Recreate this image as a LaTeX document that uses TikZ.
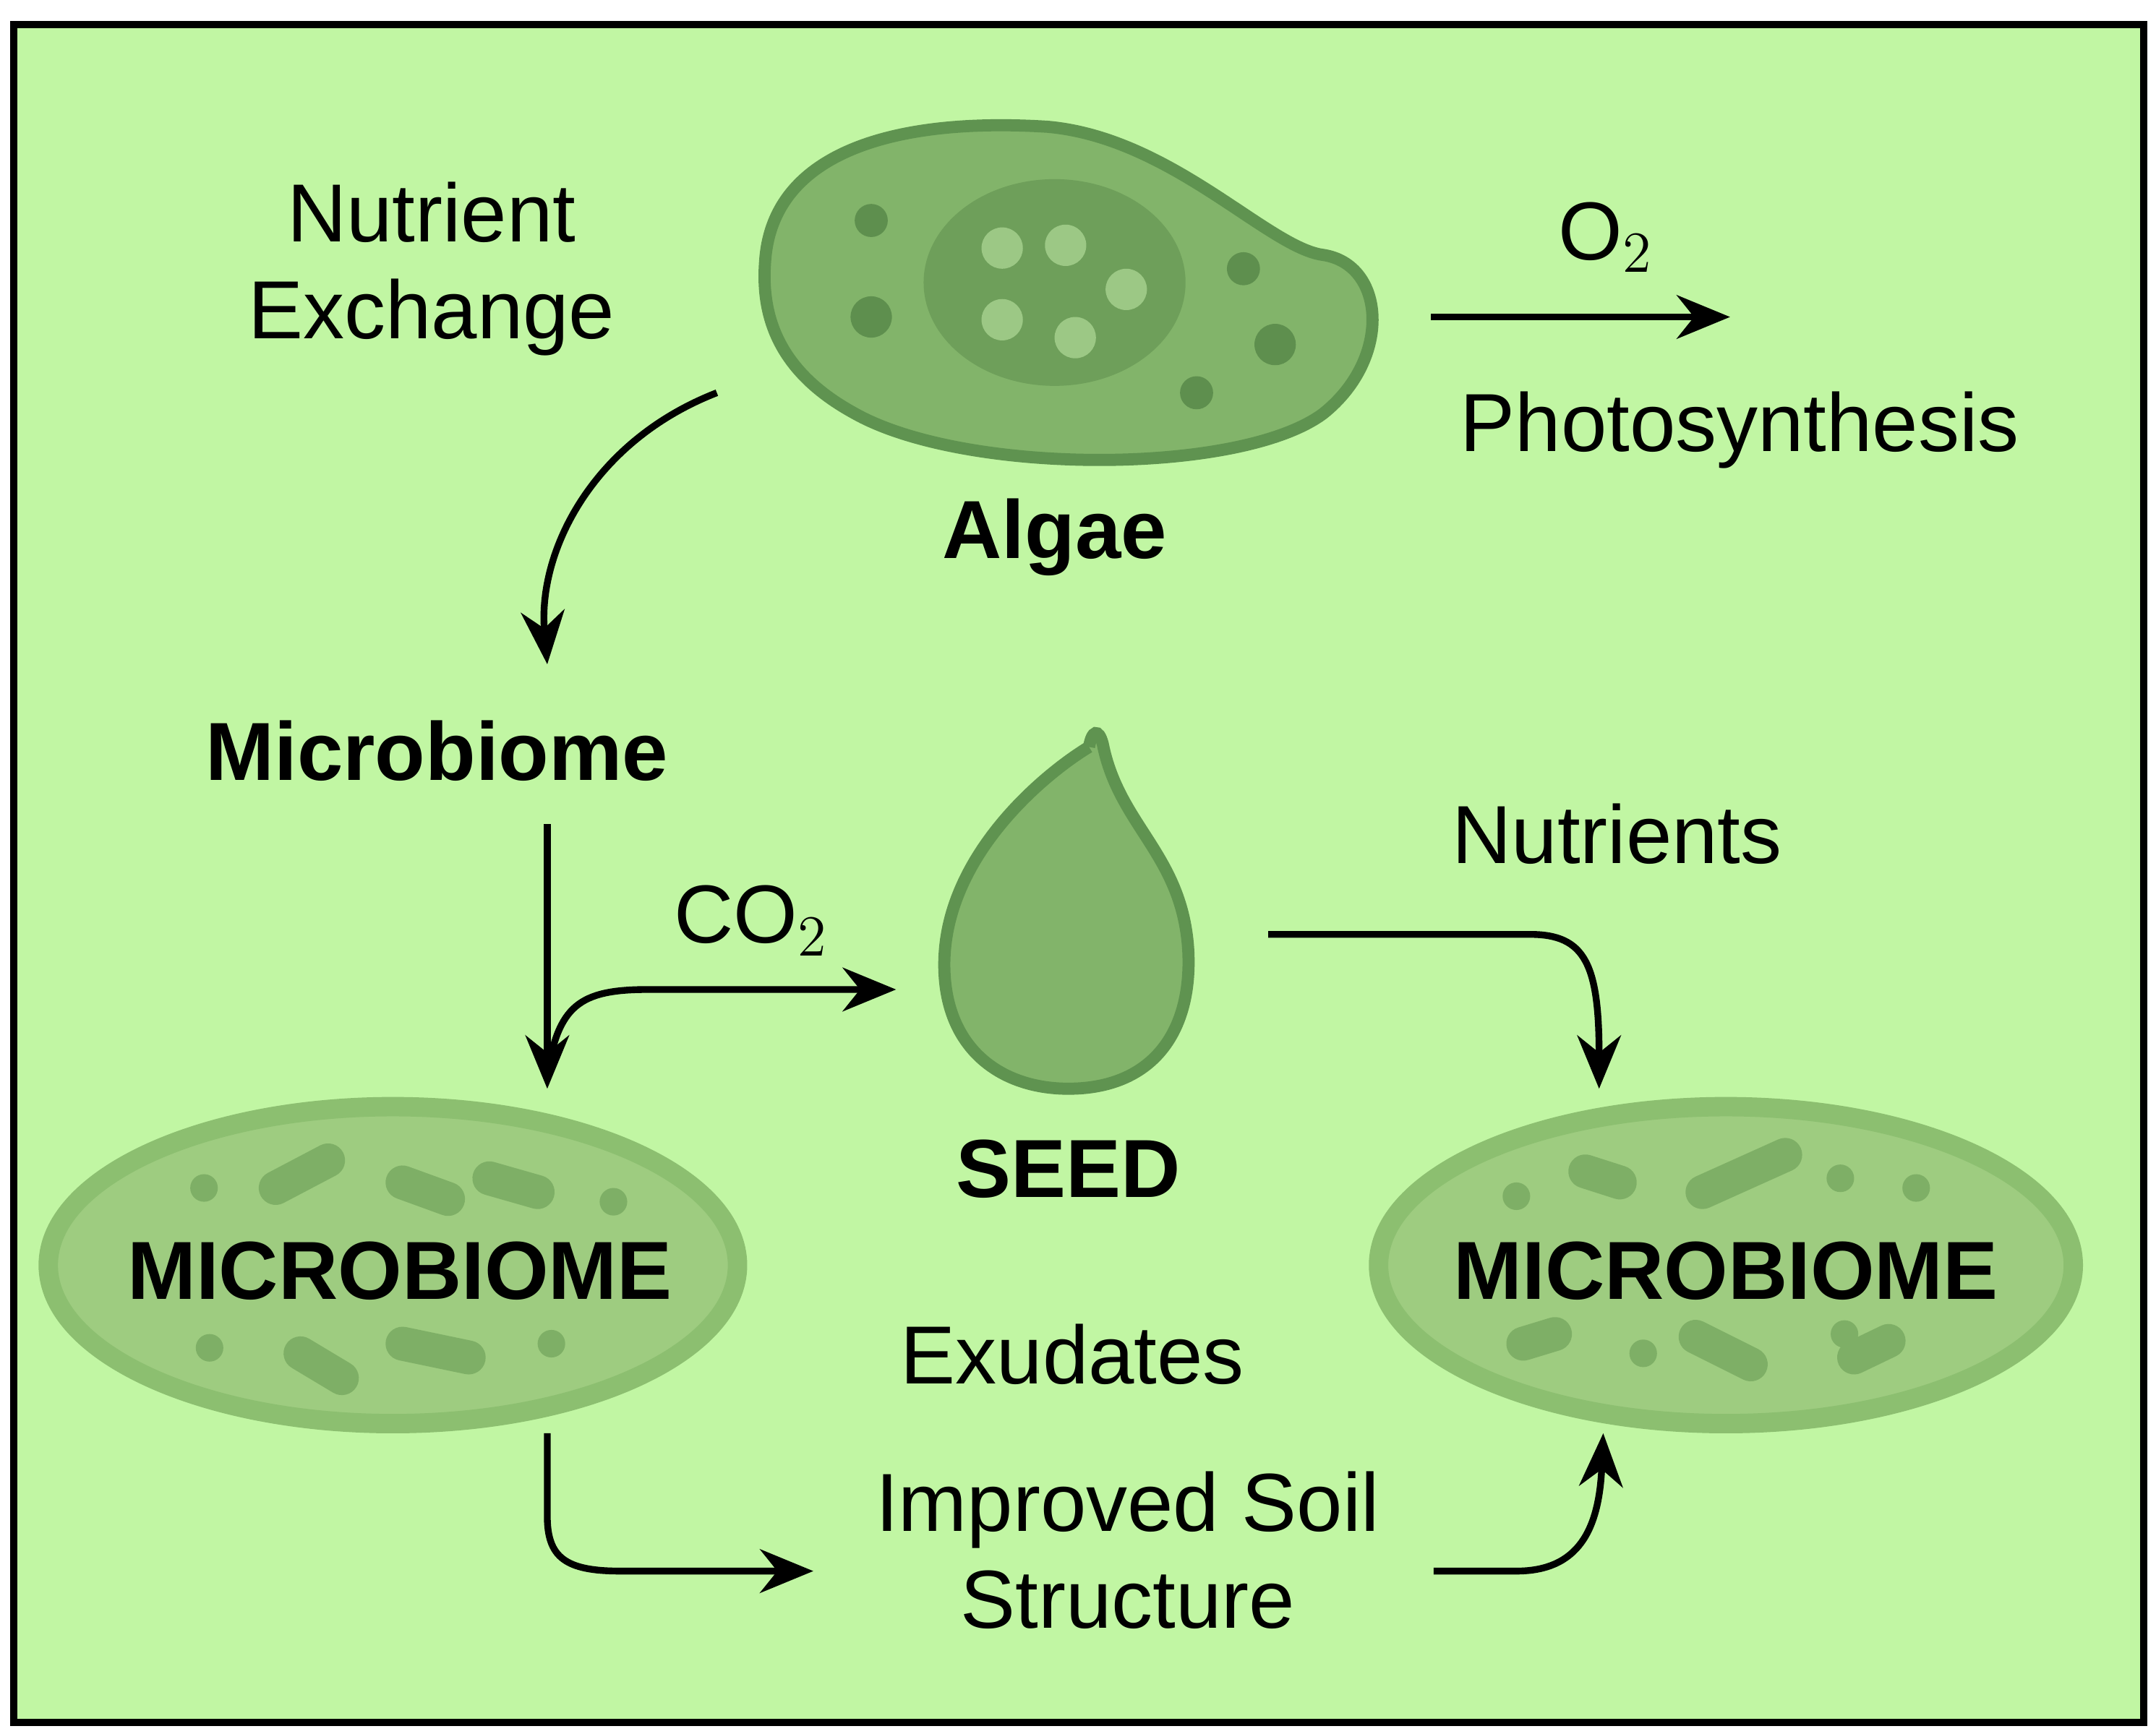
\documentclass[tikz,border=0pt]{standalone}
\usepackage{fontspec}
\setmainfont{Liberation Sans}
\usetikzlibrary{arrows.meta}
\definecolor{bgreen}{HTML}{C1F6A3}
\definecolor{cellfill}{HTML}{82B46A}
\definecolor{celldraw}{HTML}{5F9350}
\definecolor{nucfill}{HTML}{6E9F5A}
\definecolor{lightdot}{HTML}{9CC885}
\definecolor{darkdot}{HTML}{5E8F4E}
\definecolor{microfill}{HTML}{9ECC80}
\definecolor{microdraw}{HTML}{8CBF70}
\definecolor{rod}{HTML}{7EAF66}
\tikzset{
  lbl/.style={font=\fontsize{17}{20}\selectfont, align=center},
  blbl/.style={font=\fontsize{17}{20}\selectfont\bfseries, align=center},
  flow/.style={-{Stealth[length=11pt,width=9pt]}, line width=1.4pt},
  rodline/.style={rod, line width=7pt, line cap=round}
}
\begin{document}
\begin{tikzpicture}[x=0.01cm,y=-0.01cm]
    \useasboundingbox (0,0) rectangle (1564,1258);
    % Background and frame
    \fill[white] (0,0) rectangle (1564,1258);
    \draw[fill=bgreen, line width=1.5pt] (10,18) rectangle (1555,1250);

    % Algae cell
    \draw[fill=cellfill, draw=celldraw, line width=2.5pt]
      (555,190) .. controls (560,110) and (650,85) .. (760,92)
      .. controls (850,100) and (920,180) .. (960,185)
      .. controls (1005,192) and (1010,260) .. (960,300)
      .. controls (900,345) and (700,345) .. (620,300)
      .. controls (565,270) and (552,230) .. (555,190);
    \fill[nucfill] (765,205) ellipse (95 and 75);
    \foreach \x/\y in {727/180,773/178,817/210,727/232,780/245}{
        \fill[lightdot] (\x,\y) circle (15);
    }
    \foreach \x/\y/\r in {632/160/12,632/230/15,902/195/12,925/250/15,868/285/12}{
        \fill[darkdot] (\x,\y) circle (\r);
    }

    % Seed
    \draw[fill=cellfill, draw=celldraw, line width=2.5pt]
      (790,542) .. controls (760,560) and (685,620) .. (685,700)
      .. controls (685,760) and (725,790) .. (775,790)
      .. controls (835,790) and (865,750) .. (862,690)
      .. controls (858,620) and (812,600) .. (800,540)
      .. controls (797,528) and (792,530) .. (790,542);

    % Microbiome ellipses
    \draw[fill=microfill, draw=microdraw, line width=4pt] (285,918) ellipse (250 and 115);
    \draw[fill=microfill, draw=microdraw, line width=4pt] (1252,918) ellipse (252 and 115);
    \foreach \x/\y in {148/862,445/872,152/978,400/975,1100/868,1335/855,1390/862,1192/982,1338/968}{
        \fill[rod] (\x,\y) circle (10);
    }
    \foreach \a/\b/\c/\d in {200/862/238/842,292/858/325/870,355/855/390/865,218/982/248/1000,292/975/340/985,
      1150/850/1175/858,1235/865/1295/838,1105/975/1128/968,1230/970/1270/990,1345/985/1370/973}{
        \draw[rodline] (\a,\b) -- (\c,\d);
    }

    % Labels
    \node[lbl] (nutex) at (313,195) {Nutrient\\Exchange};
    \node[blbl] (algae) at (765,390) {Algae};
    \node[lbl] (otwo) at (1165,172) {O$_2$};
    \node[lbl] (photo) at (1262,312) {Photosynthesis};
    \node[blbl] (micro) at (317,545) {Microbiome};
    \node[lbl] (cotwo) at (545,668) {CO$_2$};
    \node[blbl] (seed) at (775,848) {SEED};
    \node[lbl] (nutr) at (1173,605) {Nutrients};
    \node[blbl] (leftmb) at (290,922) {MICROBIOME};
    \node[blbl] (rightmb) at (1252,922) {MICROBIOME};
    \node[lbl] (exud) at (778,983) {Exudates};
    \node[lbl] (soil) at (818,1125) {Improved Soil\\Structure};

    % Connector ends
    \coordinate (exA) at (520,285);
    \coordinate (exB) at (397,482);
    \coordinate (oA) at (1038,230);
    \coordinate (oB) at (1255,230);
    \coordinate (mA) at (397,598);
    \coordinate (mB) at (397,790);
    \coordinate (cA) at (397,780);
    \coordinate (cB) at (650,718);
    \coordinate (nA) at (920,678);
    \coordinate (nB) at (1160,790);
    \coordinate (sA) at (397,1040);
    \coordinate (sB) at (590,1140);
    \coordinate (tA) at (1040,1140);
    \coordinate (tB) at (1163,1040);

    % Arrows
    \draw[flow] (exA) .. controls (430,320) and (390,400) .. (exB);
    \draw[flow] (oA) -- (oB);
    \draw[flow] (mA) -- (mB);
    \draw[flow] (cA) .. controls (405,730) and (420,718) .. (470,718) -- (cB);
    \draw[flow] (nA) -- (1110,678) .. controls (1150,678) and (1160,700) .. (nB);
    \draw[flow] (sA) -- (397,1100) .. controls (397,1130) and (410,1140) .. (450,1140) -- (sB);
    \draw[flow] (tA) -- (1100,1140) .. controls (1145,1140) and (1160,1110) .. (tB);
\end{tikzpicture}
\end{document}
